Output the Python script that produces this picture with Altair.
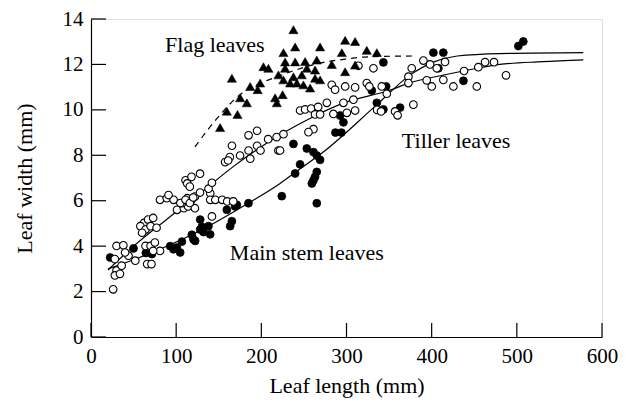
import altair as alt
import pandas as pd

FONT = "Liberation Serif"

# ---- data ----
flag_x = [151.6, 159.5, 172.0, 165.4, 175.1, 183.0, 186.9, 198.6, 195.7, 202.5, 208.3, 216.2,
          225.0, 218.2, 226.0, 237.7, 239.7, 227.9, 239.7, 251.4, 265.1, 220.1, 227.9, 225.9,
          233.8, 241.7, 247.5, 249.4, 263.1, 263.1, 269.0, 257.3, 269.0, 298.4, 310.1, 323.8,
          335.6, 294.5, 282.7, 298.4, 310.1, 237.7, 253.4]
flag_y = [9.22, 9.94, 9.80, 11.39, 10.53, 10.31, 11.03, 11.18, 10.89, 11.90, 11.83, 10.53,
          10.67, 10.31, 12.52, 13.53, 12.77, 12.11, 12.11, 12.13, 12.19, 11.54, 11.83, 11.32,
          11.18, 11.18, 11.54, 11.10, 11.75, 11.39, 11.32, 10.96, 12.77, 13.06, 13.01, 12.62,
          12.52, 12.52, 12.00, 11.68, 11.97, 11.46, 11.83]

tiller_x = [26, 30, 28, 34, 36, 44, 52, 30, 38, 40, 28, 62, 67, 73, 58, 64, 70, 77, 60, 64, 70,
            75, 81, 73, 66, 71, 81, 89, 97, 101, 109, 114, 118, 122, 113, 122, 107, 91, 105, 111,
            116, 120, 128, 111, 113, 118, 116, 128, 140, 138, 142, 140, 146, 154, 160, 167, 142,
            157.5, 163, 161, 175, 187, 185, 195, 195, 185, 165.5, 199, 208, 218, 220,
            245.5, 251.4, 258.5, 266.7, 276.9, 263.1, 269.0, 284.6, 296.4, 308.1, 310.1, 300.4,
            335.9, 340.6, 357.0, 360.0, 378.5, 347.3, 261.2, 255.3, 226.0, 222.0,
            282.7, 286.6, 298.4, 310.1, 323.8, 326.8, 341.4, 314.0, 331.6,
            372.7, 376.6, 390.3, 398.1, 406.0, 415.7, 372.7, 394.2, 400.1, 413.7, 425.5, 438.0,
            453.0, 454.8, 462.7, 473.2, 487.3]
tiller_y = [2.10, 2.93, 2.71, 2.78, 3.14, 3.58, 3.36, 4.01, 4.04, 3.72, 3.43, 5.02, 5.17, 5.24,
            4.88, 4.73, 4.88, 4.81, 4.59, 4.01, 4.01, 4.16, 3.79, 3.79, 3.21, 3.21, 6.04, 6.11,
            6.04, 5.60, 5.67, 5.75, 6.04, 6.18, 6.11, 5.67, 5.89, 6.25, 5.90, 6.04, 5.90, 6.14,
            6.36, 6.90, 6.76, 7.05, 6.62, 7.19, 6.33, 6.53, 6.79, 6.04, 6.04, 6.04, 5.97, 5.97,
            5.31, 7.70, 7.92, 7.77, 7.99, 7.85, 8.21, 8.42, 9.08, 8.88, 8.42, 8.21, 8.71, 8.80,
            8.21,
            9.97, 10.02, 10.06, 10.13, 10.31, 9.80, 9.80, 9.82, 10.31, 10.45, 9.97, 9.87,
            10.00, 9.93, 9.93, 9.76, 10.23, 10.71, 9.15, 9.02, 8.93, 8.21,
            11.10, 10.89, 11.03, 10.99, 11.18, 11.03, 11.03, 11.94, 11.83,
            11.46, 11.83, 12.17, 12.00, 11.83, 12.11, 11.18, 11.30, 11.03, 11.32, 11.03, 11.71,
            11.03, 11.88, 12.10, 12.10, 11.52]

main_x = [22.5, 49.9, 64.4, 71.5, 93.0, 96.8, 100.8, 104.7, 106.7, 118.4, 120.3, 122.3, 128.2,
          128.2, 130.2, 132.1, 137.9, 139.9, 159.5, 163.4, 165.4, 169.2, 171.2, 184.9, 224.0,
          237.7, 253.4, 261.2, 265.1, 269.0, 245.5, 239.7, 265.1, 263.1, 261.2, 259.3, 265.1,
          287.0, 294.0, 292.5, 296.4, 335.6, 343.3, 362.9, 343.3, 329.7, 346.5, 402.0, 413.7,
          407.9, 437.3, 501.8, 507.6]
main_y = [3.50, 3.90, 3.70, 3.65, 4.00, 3.86, 3.94, 3.72, 4.20, 4.50, 4.30, 4.23, 4.73, 5.17,
          4.85, 4.62, 4.88, 4.52, 5.60, 4.88, 5.10, 5.75, 5.82, 5.89, 6.20, 8.50, 8.30, 8.14,
          7.99, 7.80, 7.60, 7.20, 7.27, 7.05, 6.90, 6.76, 5.89, 9.00, 9.00, 9.75, 9.45, 10.31,
          10.02, 10.10, 12.09, 10.85, 11.03, 12.52, 12.52, 11.83, 11.28, 12.81, 13.01]

flag_curve_x = [122, 152, 175, 195, 218, 240, 269, 298, 328, 377]
flag_curve_y = [8.37, 9.80, 10.67, 11.10, 11.45, 11.75, 12.06, 12.23, 12.34, 12.37]

tiller_curve_x = [20, 50, 100, 124, 167, 222, 261, 300, 350, 375, 410, 449, 480, 530, 578]
tiller_curve_y = [2.95, 4.0, 5.5, 6.2, 7.5, 8.9, 9.7, 10.35, 10.85, 11.2, 11.5, 11.8, 12.0, 12.12, 12.2]

main_curve_x = [20, 50, 80, 134, 185, 222, 238, 275, 336, 375, 402, 430, 480, 578]
main_curve_y = [3.0, 3.4, 3.85, 4.8, 5.9, 6.76, 7.2, 8.21, 10.24, 11.54, 12.1, 12.37, 12.48, 12.52]

x_ticks = [0, 100, 200, 300, 400, 500, 600]
y_ticks = [0, 2, 4, 6, 8, 10, 12, 14]

labels = ["Flag leaves", "Tiller leaves", "Main stem leaves"]
label_x = [87, 365, 163]
label_y = [12.84, 8.64, 3.72]

W, H = 511, 318

flag = pd.DataFrame({"x": flag_x, "y": flag_y})
tiller = pd.DataFrame({"x": tiller_x, "y": tiller_y})
main = pd.DataFrame({"x": main_x, "y": main_y})
fc = pd.DataFrame({"x": flag_curve_x, "y": flag_curve_y})
tc = pd.DataFrame({"x": tiller_curve_x, "y": tiller_curve_y})
mc = pd.DataFrame({"x": main_curve_x, "y": main_curve_y})
xt = pd.DataFrame({"t": x_ticks})
yt = pd.DataFrame({"t": y_ticks})
lab = pd.DataFrame({"label": labels, "x": label_x, "y": label_y})

xs = alt.Scale(domain=[0, 600], nice=False, zero=False)
ys = alt.Scale(domain=[0, 14], nice=False, zero=False)

X = alt.X("x:Q", scale=xs, axis=alt.Axis(
    title="Leaf length (mm)", values=x_ticks, ticks=False, grid=False,
    domainColor="black", domainWidth=1.2, labelFont=FONT, labelFontSize=21,
    labelColor="black", labelPadding=8, titleFont=FONT, titleFontSize=22,
    titleFontWeight="normal", titleColor="black", titlePadding=9, labelFlush=False))
Y = alt.Y("y:Q", scale=ys, axis=alt.Axis(
    title="Leaf width (mm)", values=y_ticks, ticks=False, grid=False,
    domainColor="black", domainWidth=1.2, labelFont=FONT, labelFontSize=21,
    labelColor="black", labelPadding=8, titleFont=FONT, titleFontSize=22,
    titleFontWeight="normal", titleColor="black", titlePadding=26, labelFlush=False))

base_axes = alt.Chart(tc).mark_line(stroke="black", strokeWidth=1.2, interpolate="monotone").encode(x=X, y=Y)
main_line = alt.Chart(mc).mark_line(stroke="black", strokeWidth=1.2, interpolate="monotone").encode(
    x=alt.X("x:Q", scale=xs), y=alt.Y("y:Q", scale=ys))
flag_line = alt.Chart(fc).mark_line(stroke="black", strokeWidth=1.2, strokeDash=[6, 5],
                                     interpolate="monotone").encode(
    x=alt.X("x:Q", scale=xs), y=alt.Y("y:Q", scale=ys))

xtick = alt.Chart(xt).mark_rule(color="black", strokeWidth=1.2).encode(
    x=alt.X("t:Q", scale=xs), y=alt.value(H), y2=alt.value(H - 14))
ytick = alt.Chart(yt).mark_rule(color="black", strokeWidth=1.2).encode(
    y=alt.Y("t:Q", scale=ys), x=alt.value(0), x2=alt.value(15))

main_pts = alt.Chart(main).mark_point(shape="circle", filled=True, fill="black", stroke="black",
                                      strokeWidth=0.8, size=62, opacity=1).encode(
    x=alt.X("x:Q", scale=xs), y=alt.Y("y:Q", scale=ys))
tiller_pts = alt.Chart(tiller).mark_point(shape="circle", filled=True, fill="white", stroke="black",
                                          strokeWidth=1.1, size=58, opacity=1).encode(
    x=alt.X("x:Q", scale=xs), y=alt.Y("y:Q", scale=ys))
flag_pts = alt.Chart(flag).mark_point(shape="triangle-up", filled=True, fill="black", stroke="black",
                                      strokeWidth=0.5, size=85, opacity=1).encode(
    x=alt.X("x:Q", scale=xs), y=alt.Y("y:Q", scale=ys))

texts = alt.Chart(lab).mark_text(font=FONT, fontSize=22, align="left", baseline="middle",
                                 color="black").encode(
    x=alt.X("x:Q", scale=xs), y=alt.Y("y:Q", scale=ys), text="label:N")

chart = alt.layer(base_axes, main_line, flag_line, xtick, ytick, main_pts, tiller_pts, flag_pts, texts).properties(
    width=W, height=H,
    autosize=alt.AutoSizeParams(type="none"),
    padding={"left": 83, "top": 11, "right": 20, "bottom": 62},
).configure_view(stroke=None).configure(background="white")

chart.save("out.html", embed_options={"renderer": "svg", "actions": False})
